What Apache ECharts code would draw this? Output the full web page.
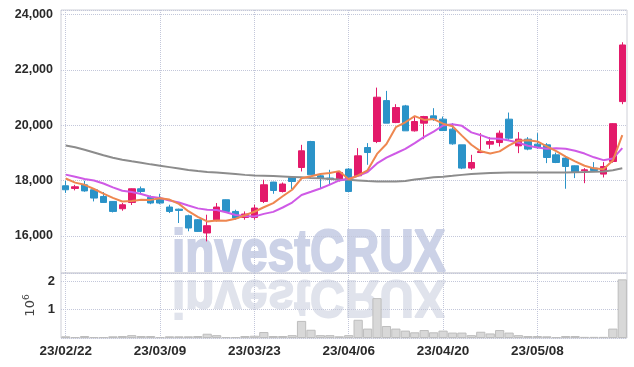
<!DOCTYPE html>
<html><head><meta charset="utf-8">
<script src="https://cdn.jsdelivr.net/npm/echarts@6/dist/echarts.min.js"></script>
<style>html,body{margin:0;padding:0;background:#fff}#c{width:634px;height:367px}</style>
</head><body><div id="c"></div>
<script>
const dates = ['23/02/22','23/02/23','23/02/24','23/02/27','23/02/28','23/03/02','23/03/03','23/03/06','23/03/07','23/03/08',
'23/03/09','23/03/10','23/03/13','23/03/14','23/03/15','23/03/16','23/03/17','23/03/20','23/03/21','23/03/22',
'23/03/23','23/03/24','23/03/27','23/03/28','23/03/29','23/03/30','23/03/31','23/04/03','23/04/04','23/04/05',
'23/04/06','23/04/07','23/04/10','23/04/11','23/04/12','23/04/13','23/04/14','23/04/17','23/04/18','23/04/19',
'23/04/20','23/04/21','23/04/24','23/04/25','23/04/26','23/04/27','23/04/28','23/05/02','23/05/03','23/05/04',
'23/05/08','23/05/09','23/05/10','23/05/11','23/05/12','23/05/15','23/05/16','23/05/17','23/05/18','23/05/19'];
const open  = [17816,17720,17850,17672,17430,17250,16986,17213,17708,17394,17336,17047,16970,16733,16588,16109,16589,17311,16888,16672,
16672,17249,17950,17610,18116,18477,19415,18177,18095,18033,18419,18177,19199,19415,20895,20102,20704,19802,20080,20343,
20224,19863,19296,18455,19018,19321,19379,20224,19260,19502,19321,19296,18935,18816,18538,18357,18455,18238,18693,20859];
const close = [17672,17780,17630,17372,17213,16888,17130,17708,17610,17192,17192,16888,16925,16289,16167,16372,17047,16888,16650,16795,
17011,17852,17646,17878,17971,19080,18213,18080,18058,18296,17610,18899,19018,21018,20080,20643,19802,20138,20318,20235,
19812,19332,18455,18657,19054,19415,19718,19538,19502,19141,19199,18838,18657,18513,18296,18394,18369,18513,20061,22906];
const low   = [17556,17650,17600,17250,17200,16852,16914,17120,17517,17150,17150,16830,16470,16170,16150,15806,16527,16850,16590,16590,
16590,17192,17527,17574,17700,18333,18200,17733,17852,17971,17589,18152,18574,19358,20080,20080,19802,19776,19502,20163,
19800,19300,18419,18394,18996,19152,19235,19477,18996,19100,19150,18635,18635,17708,18094,17910,18369,18116,18650,20765];
const high  = [17996,17850,18000,17700,17589,17260,17192,17719,17790,17466,17527,17130,16990,16770,16614,16770,17192,17320,16950,16890,
17130,18033,17960,17935,18130,19296,19440,18200,18394,18333,18455,19177,19358,21365,21246,20765,20740,20318,20343,20621,
20318,20080,19296,18935,19718,19574,19815,20463,19755,19574,19718,19358,19018,18850,18550,18455,18671,18671,20080,23004];
const volume = [60000,35000,70000,35000,35000,60000,70000,100000,70000,70000,35000,60000,60000,60000,70000,150000,100000,35000,35000,70000,
80000,210000,70000,70000,100000,600000,290000,100000,100000,60000,100000,640000,330000,1400000,420000,330000,260000,200000,280000,200000,
260000,190000,190000,100000,220000,160000,280000,190000,100000,70000,70000,60000,30000,70000,70000,40000,40000,40000,330000,2060000];
const ma5  = [18080,17930,17850,17700,17533,17377,17247,17262,17310,17306,17366,17318,17161,16897,16692,16528,16560,16553,16625,16750,
16878,17039,17191,17436,17672,18085,18158,18244,18280,18345,18051,18189,18376,18968,19325,19932,20112,20336,20196,20227,
20061,19967,19630,19298,19062,18983,19060,19276,19445,19463,19420,19244,19067,18870,18701,18540,18446,18417,18727,19649];
const ma10 = [18220,18140,18060,18007,17900,17760,17636,17589,17517,17420,17372,17282,17212,17104,16999,16947,16939,16857,16761,16721,
16703,16800,16872,17031,17211,17482,17598,17718,17858,18009,18068,18173,18310,18624,18835,18992,19150,19356,19582,19776,
19996,20040,19983,19747,19645,19522,19513,19453,19372,19262,19201,19152,19172,19158,19082,18980,18845,18742,18798,19175];
const ma60 = [19270,19210,19120,19020,18920,18830,18760,18700,18650,18590,18540,18490,18440,18390,18350,18315,18295,18270,18240,18210,
18190,18180,18165,18150,18135,18120,18100,18085,18065,18045,18030,18010,17990,17975,17970,17975,17990,18040,18080,18120,
18145,18175,18210,18240,18260,18275,18290,18295,18300,18300,18300,18300,18300,18300,18305,18310,18320,18330,18380,18450];
const watermark = 'investCRUX';

const FONT = '"Liberation Sans",Arial,sans-serif';
const chart = echarts.init(document.getElementById('c'), null, {renderer:'canvas'});
const candles = dates.map((d,i)=>[open[i],close[i],low[i],high[i]]);
const gridLine = {show:true, lineStyle:{type:'dotted', color:'#c3c7da', width:1}};
function fmt(v){return String(v).replace(/\B(?=(\d{3})+(?!\d))/g, ',');}

chart.setOption({
  animation:false,
  backgroundColor:'#fff',
  graphic:[
    {type:'text', x:172, y:255, z:0, silent:true, scaleX:0.81,
     style:{text:watermark, font:'bold 59px '+FONT, fill:'#ccd2e7', stroke:'#ccd2e7', lineWidth:2, verticalAlign:'middle', align:'left'}},
    {type:'text', x:172, y:295, z:0, silent:true, scaleX:0.81, scaleY:-0.88,
     style:{text:watermark, font:'bold 59px '+FONT, fill:'#e0e3ec', stroke:'#e0e3ec', lineWidth:2, verticalAlign:'middle', align:'left'}}
  ],
  grid:[
    {left:61, right:7, top:10, height:263, show:true, borderColor:'#cfd0d8', borderWidth:1, backgroundColor:'transparent'},
    {left:61, right:7, top:273, height:65, show:true, borderColor:'#cfd0d8', borderWidth:1, backgroundColor:'transparent'}
  ],
  xAxis:[
    {type:'category', gridIndex:0, data:dates, boundaryGap:true,
     axisLine:{show:false}, axisTick:{show:false}, axisLabel:{show:false},
     splitLine:Object.assign({interval:9, alignWithLabel:true}, gridLine)},
    {type:'category', gridIndex:1, data:dates, boundaryGap:true,
     axisLine:{show:false}, axisTick:{show:false},
     axisLabel:{interval:9, fontFamily:FONT, fontSize:13.5, fontWeight:'bold', color:'#2a2a2a', margin:6},
     splitLine:Object.assign({interval:9, alignWithLabel:true}, gridLine)}
  ],
  yAxis:[
    {type:'value', gridIndex:0, min:14663, max:24170, splitNumber:5,
     axisLine:{show:false}, axisTick:{show:false},
     axisLabel:{showMinLabel:false, showMaxLabel:false, fontFamily:FONT, fontSize:12.5, fontWeight:'bold', color:'#2a2a2a', margin:8,
       formatter:v=> (v%2000===0? fmt(v):'')},
     splitLine:gridLine},
    {type:'value', gridIndex:1, min:0, max:2283000, interval:1000000,
     axisLine:{show:false}, axisTick:{show:false},
     axisLabel:{showMaxLabel:false, fontFamily:FONT, fontSize:13, fontWeight:'bold', color:'#2a2a2a', margin:6,
       formatter:v=> (v>0 && v%1000000===0 ? String(v/1000000):'')},
     splitLine:gridLine,
     name:'{a|10}{b|6}', nameLocation:'middle', nameRotate:90, nameGap:19,
     nameTextStyle:{rich:{a:{fontSize:13, color:'#444', fontFamily:'DejaVu Sans'}, b:{fontSize:9, color:'#444', fontFamily:'DejaVu Sans', padding:[0,0,8,0]}}}}
  ],
  series:[
    {type:'bar', xAxisIndex:1, yAxisIndex:1, data:volume, barCategoryGap:'2%',
     itemStyle:{color:'#d8d8d8', borderColor:'#bdbdbd', borderWidth:1}},
    {type:'candlestick', xAxisIndex:0, yAxisIndex:0, data:candles, barWidth:7,
     itemStyle:{color:'#e31a6a', color0:'#2b93c8', borderColor:'#e31a6a', borderColor0:'#2b93c8', borderWidth:1}},
    {type:'line', data:ma60, symbol:'none', lineStyle:{color:'#8c8c8c', width:2}, z:3},
    {type:'line', data:ma10, symbol:'none', lineStyle:{color:'#cf5ae6', width:2}, z:3},
    {type:'line', data:ma5, symbol:'none', lineStyle:{color:'#ee8750', width:2}, z:4}
  ]
});
</script></body></html>
